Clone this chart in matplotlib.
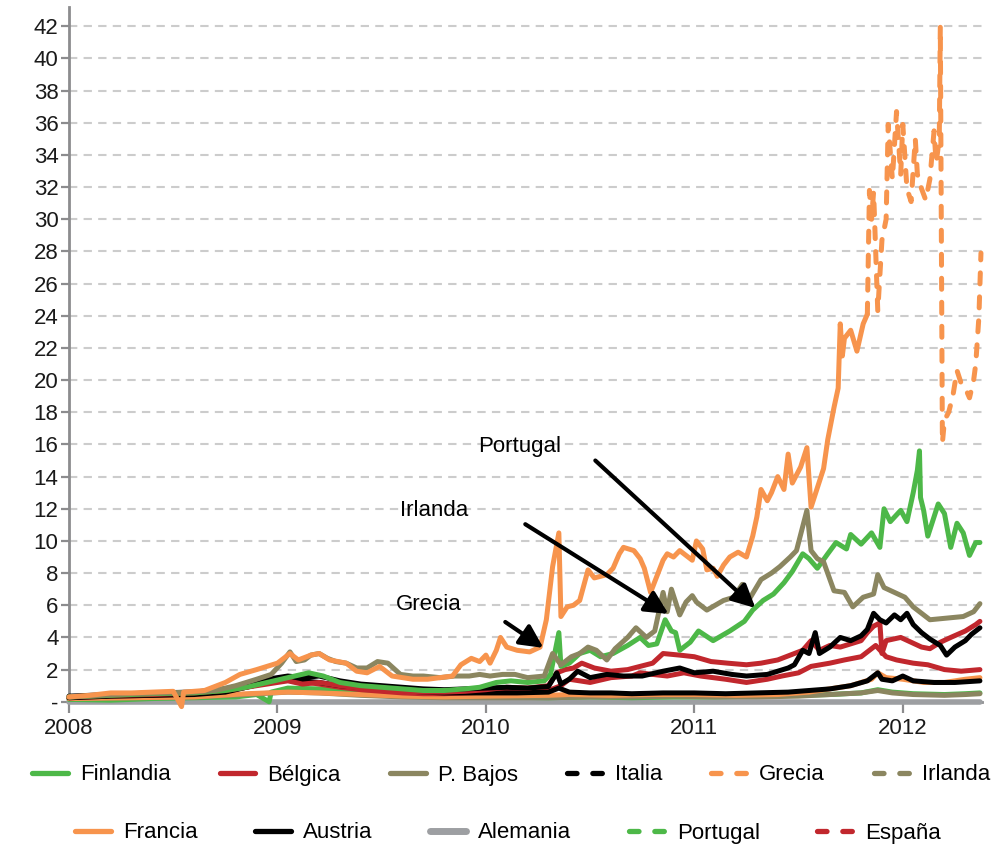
import matplotlib
matplotlib.use("Agg")
import matplotlib.pyplot as plt
from matplotlib.lines import Line2D

plt.rcParams['font.family'] = ['Liberation Sans', 'DejaVu Sans']

# ---------------- data (decimal years, spread in percentage points) ----------------
gr_t = [2008.00, 2008.10, 2008.20, 2008.30, 2008.40, 2008.50, 2008.54, 2008.55, 2008.65, 2008.75,
        2008.82, 2008.90, 2008.95, 2009.00, 2009.06, 2009.10, 2009.16, 2009.20, 2009.25, 2009.33,
        2009.38, 2009.43, 2009.49, 2009.55, 2009.60, 2009.65, 2009.72, 2009.78, 2009.84, 2009.88,
        2009.93, 2009.97, 2010.00, 2010.02, 2010.05, 2010.07, 2010.10, 2010.15, 2010.21, 2010.26,
        2010.29, 2010.32, 2010.35, 2010.36, 2010.39, 2010.42, 2010.45, 2010.49, 2010.52, 2010.55,
        2010.58, 2010.61, 2010.64, 2010.66, 2010.71, 2010.74, 2010.76, 2010.79, 2010.82, 2010.85,
        2010.87, 2010.90, 2010.93, 2010.96, 2010.99, 2011.01, 2011.04, 2011.06, 2011.09, 2011.11,
        2011.14, 2011.17, 2011.21, 2011.25, 2011.28, 2011.30, 2011.32, 2011.35, 2011.37, 2011.40,
        2011.43, 2011.45, 2011.47, 2011.51, 2011.54, 2011.56, 2011.59, 2011.62, 2011.64, 2011.67,
        2011.69, 2011.70, 2011.71, 2011.72, 2011.75, 2011.78, 2011.81, 2011.83,
        2011.84, 2011.85, 2011.86, 2011.88, 2011.90, 2011.92, 2011.93, 2011.95, 2011.97, 2011.99,
        2012.00, 2012.02, 2012.04, 2012.06, 2012.07, 2012.09, 2012.11, 2012.13, 2012.15, 2012.16,
        2012.175, 2012.18, 2012.19, 2012.20, 2012.22, 2012.24, 2012.26, 2012.28, 2012.30, 2012.32,
        2012.34, 2012.35, 2012.365, 2012.375]
gr_v = [0.30, 0.40, 0.55, 0.55, 0.60, 0.65, -0.30, 0.60, 0.70, 1.20,
        1.70, 2.00, 2.20, 2.40, 3.00, 2.60, 2.90, 3.00, 2.60, 2.40,
        1.90, 1.80, 2.20, 1.60, 1.50, 1.40, 1.40, 1.50, 1.60, 2.30,
        2.70, 2.50, 2.90, 2.40, 3.20, 4.00, 3.40, 3.20, 3.10, 3.40,
        5.10, 8.40, 10.50, 5.30, 5.90, 6.00, 6.30, 8.20, 7.70, 7.80,
        7.90, 8.30, 9.20, 9.60, 9.40, 8.90, 8.30, 6.80, 7.80, 8.80,
        9.20, 9.00, 9.40, 9.10, 8.80, 10.00, 9.50, 8.20, 8.30, 7.80,
        8.50, 9.00, 9.30, 9.00, 10.30, 11.50, 13.20, 12.50, 13.00, 14.00,
        13.20, 15.40, 13.60, 14.60, 15.80, 12.10, 13.30, 14.50, 16.30, 18.30,
        19.50, 23.50, 21.50, 22.60, 23.10, 21.80, 23.50, 24.10,
        31.80, 30.00, 31.70, 24.30, 28.70, 30.00, 35.90, 32.50, 36.70, 32.80,
        35.90, 31.90, 31.10, 35.00, 32.80, 31.90, 31.20, 32.50, 35.50, 33.50,
        35.00, 42.00, 16.10, 17.50, 18.00, 19.00, 20.60, 19.80, 19.50, 18.90,
        20.00, 21.00, 23.90, 27.90]

ie_t = [2008.00, 2008.15, 2008.30, 2008.45, 2008.60, 2008.70, 2008.80, 2008.90, 2008.97, 2009.02,
        2009.06, 2009.09, 2009.13, 2009.16, 2009.20, 2009.24, 2009.28, 2009.33, 2009.38, 2009.43,
        2009.48, 2009.53, 2009.59, 2009.65, 2009.70, 2009.78, 2009.85, 2009.92, 2009.97, 2010.02,
        2010.08, 2010.14, 2010.20, 2010.28, 2010.32, 2010.36, 2010.41, 2010.45, 2010.49, 2010.53,
        2010.58, 2010.62, 2010.68, 2010.72, 2010.77, 2010.81, 2010.85, 2010.87, 2010.89, 2010.93,
        2010.96, 2010.99, 2011.01, 2011.06, 2011.10, 2011.14, 2011.19, 2011.23, 2011.26, 2011.32,
        2011.37, 2011.41, 2011.46, 2011.49, 2011.52, 2011.54, 2011.56, 2011.59, 2011.62, 2011.67,
        2011.72, 2011.76, 2011.81, 2011.86, 2011.88, 2011.91, 2011.96, 2012.01, 2012.05, 2012.09,
        2012.13, 2012.21, 2012.29, 2012.34, 2012.37]
ie_v = [0.30, 0.40, 0.50, 0.55, 0.60, 0.70, 1.00, 1.40, 1.70, 2.40,
        3.10, 2.50, 2.60, 2.90, 3.00, 2.70, 2.50, 2.40, 2.10, 2.10,
        2.50, 2.40, 1.70, 1.60, 1.60, 1.50, 1.60, 1.60, 1.70, 1.60,
        1.70, 1.70, 1.50, 1.60, 3.00, 2.30, 2.80, 3.00, 3.40, 3.20,
        2.60, 3.30, 4.00, 4.60, 4.00, 4.40, 6.80, 5.60, 7.00, 5.40,
        6.20, 6.60, 6.20, 5.70, 6.00, 6.30, 6.50, 7.30, 6.30, 7.60,
        8.00, 8.40, 9.00, 9.40, 10.90, 11.90, 9.40, 8.90, 8.70, 6.90,
        6.80, 5.90, 6.50, 6.70, 7.90, 7.10, 6.80, 6.50, 5.90, 5.50,
        5.10, 5.20, 5.30, 5.60, 6.10]

pt_t = [2008.00, 2008.20, 2008.40, 2008.60, 2008.75, 2008.85, 2008.95, 2009.05, 2009.15, 2009.22,
        2009.30, 2009.40, 2009.50, 2009.60, 2009.70, 2009.80, 2009.90, 2009.97, 2010.05, 2010.12,
        2010.20, 2010.28, 2010.31, 2010.35, 2010.36, 2010.40, 2010.45, 2010.50, 2010.55, 2010.61,
        2010.68, 2010.74, 2010.78, 2010.82, 2010.86, 2010.89, 2010.91, 2010.93, 2010.98, 2011.02,
        2011.09, 2011.17, 2011.24, 2011.28, 2011.33, 2011.38, 2011.43, 2011.47, 2011.52, 2011.55,
        2011.59, 2011.64, 2011.68, 2011.73, 2011.75, 2011.80, 2011.85, 2011.89, 2011.91, 2011.94,
        2011.99, 2012.02, 2012.05, 2012.07, 2012.08, 2012.085, 2012.10, 2012.12, 2012.17, 2012.20,
        2012.23, 2012.26, 2012.29, 2012.32, 2012.35, 2012.37]
pt_v = [0.30, 0.40, 0.50, 0.55, 0.70, 0.90, 1.20, 1.50, 1.80, 1.60,
        1.20, 1.00, 0.90, 0.80, 0.70, 0.70, 0.80, 0.90, 1.20, 1.30,
        1.20, 1.30, 1.70, 4.30, 2.20, 2.40, 3.00, 3.20, 2.80, 3.00,
        3.50, 4.00, 3.50, 3.60, 5.10, 4.40, 4.30, 3.20, 3.70, 4.40,
        3.80, 4.40, 5.00, 5.70, 6.30, 6.70, 7.40, 8.10, 9.20, 8.90,
        8.30, 9.20, 9.90, 9.50, 10.40, 9.80, 10.50, 9.60, 12.00, 11.20,
        11.90, 11.20, 13.00, 14.40, 15.60, 12.70, 11.90, 10.30, 12.30, 11.70,
        9.60, 11.10, 10.50, 9.10, 9.90, 9.90]

it_t = [2008.00, 2008.20, 2008.40, 2008.60, 2008.75, 2008.85, 2008.95, 2009.05, 2009.12, 2009.20,
        2009.30, 2009.40, 2009.50, 2009.60, 2009.70, 2009.80, 2009.90, 2010.00, 2010.10, 2010.20,
        2010.30, 2010.34, 2010.36, 2010.40, 2010.44, 2010.50, 2010.58, 2010.66, 2010.75, 2010.85,
        2010.93, 2011.00, 2011.09, 2011.18, 2011.25, 2011.35, 2011.45, 2011.48, 2011.52, 2011.55,
        2011.58, 2011.60, 2011.65, 2011.70, 2011.75, 2011.80, 2011.83, 2011.86, 2011.89, 2011.92,
        2011.96, 2011.99, 2012.02, 2012.05, 2012.09, 2012.13, 2012.18, 2012.21, 2012.25, 2012.30,
        2012.33, 2012.37]
it_v = [0.35, 0.45, 0.55, 0.60, 0.80, 1.10, 1.40, 1.60, 1.50, 1.60,
        1.30, 1.10, 1.00, 0.90, 0.80, 0.75, 0.80, 0.85, 0.90, 0.85,
        0.95, 1.80, 1.10, 1.40, 1.90, 1.50, 1.70, 1.60, 1.60, 1.90,
        2.10, 1.80, 1.90, 1.70, 1.60, 1.70, 2.10, 2.30, 3.20, 3.00,
        4.30, 3.00, 3.40, 4.00, 3.80, 4.10, 4.50, 5.50, 5.10, 4.90,
        5.40, 5.10, 5.50, 4.80, 4.30, 3.90, 3.50, 2.90, 3.40, 3.80,
        4.20, 4.60]

es_t = [2008.00, 2008.20, 2008.40, 2008.60, 2008.75, 2008.85, 2008.95, 2009.05, 2009.12, 2009.20,
        2009.30, 2009.40, 2009.50, 2009.60, 2009.70, 2009.80, 2009.90, 2010.00, 2010.10, 2010.20,
        2010.30, 2010.34, 2010.38, 2010.42, 2010.46, 2010.52, 2010.60, 2010.68, 2010.74, 2010.80,
        2010.85, 2010.93, 2011.00, 2011.08, 2011.16, 2011.25, 2011.32, 2011.40, 2011.48, 2011.52,
        2011.56, 2011.60, 2011.65, 2011.70, 2011.75, 2011.80, 2011.83, 2011.86, 2011.89, 2011.90,
        2011.92, 2011.99, 2012.04, 2012.09, 2012.13, 2012.18, 2012.23, 2012.30, 2012.35, 2012.37]
es_v = [0.30, 0.40, 0.45, 0.55, 0.70, 0.90, 1.10, 1.30, 1.10, 1.20,
        1.00, 0.85, 0.70, 0.65, 0.60, 0.60, 0.65, 0.75, 0.90, 0.85,
        1.00, 1.80, 2.00, 2.10, 2.40, 2.10, 1.90, 2.00, 2.20, 2.40,
        3.00, 2.90, 2.80, 2.50, 2.40, 2.30, 2.40, 2.60, 3.00, 3.20,
        3.80, 3.20, 3.50, 3.40, 3.60, 3.80, 4.30, 4.70, 4.90, 3.00,
        3.80, 4.00, 3.70, 3.40, 3.30, 3.70, 4.00, 4.40, 4.80, 5.00]

be_t = [2008.00, 2008.20, 2008.40, 2008.60, 2008.75, 2008.85, 2008.95, 2009.05, 2009.10, 2009.20,
        2009.30, 2009.40, 2009.50, 2009.60, 2009.70, 2009.80, 2009.90, 2010.00, 2010.10, 2010.20,
        2010.30, 2010.36, 2010.40, 2010.50, 2010.60, 2010.70, 2010.74, 2010.80, 2010.87, 2010.95,
        2011.03, 2011.15, 2011.25, 2011.35, 2011.42, 2011.50, 2011.56, 2011.65, 2011.72, 2011.80,
        2011.87, 2011.92, 2011.97, 2012.05, 2012.12, 2012.20, 2012.28, 2012.37]
be_v = [0.25, 0.35, 0.40, 0.50, 0.65, 0.90, 1.20, 1.50, 1.30, 1.10,
        0.90, 0.75, 0.65, 0.55, 0.50, 0.50, 0.55, 0.60, 0.65, 0.60,
        0.70, 1.00, 1.40, 1.20, 1.50, 1.60, 1.80, 1.70, 1.60, 1.80,
        1.60, 1.40, 1.20, 1.40, 1.60, 1.80, 2.20, 2.40, 2.60, 2.80,
        3.50, 2.80, 2.60, 2.40, 2.30, 2.00, 1.90, 2.00]

at_t = [2008.00, 2008.20, 2008.40, 2008.60, 2008.75, 2008.85, 2008.95, 2009.05, 2009.12, 2009.20,
        2009.30, 2009.40, 2009.50, 2009.60, 2009.70, 2009.80, 2009.90, 2010.00, 2010.15, 2010.30,
        2010.35, 2010.40, 2010.50, 2010.60, 2010.70, 2010.85, 2011.00, 2011.15, 2011.30, 2011.45,
        2011.55, 2011.65, 2011.75, 2011.83, 2011.88, 2011.90, 2011.95, 2012.00, 2012.05, 2012.15,
        2012.25, 2012.37]
at_v = [0.25, 0.35, 0.40, 0.45, 0.60, 0.90, 1.20, 1.40, 1.30, 1.20,
        1.00, 0.90, 0.80, 0.70, 0.60, 0.55, 0.55, 0.55, 0.55, 0.60,
        0.85, 0.60, 0.55, 0.55, 0.50, 0.55, 0.55, 0.50, 0.55, 0.60,
        0.70, 0.80, 1.00, 1.30, 1.80, 1.40, 1.30, 1.60, 1.30, 1.20,
        1.20, 1.30]

fr_t = [2008.00, 2008.30, 2008.60, 2008.85, 2009.05, 2009.20, 2009.40, 2009.60, 2009.80, 2010.00,
        2010.30, 2010.40, 2010.60, 2010.80, 2011.00, 2011.20, 2011.40, 2011.55, 2011.65, 2011.75,
        2011.85, 2011.88, 2011.92, 2012.00, 2012.10, 2012.20, 2012.30, 2012.37]
fr_v = [0.20, 0.25, 0.30, 0.50, 0.60, 0.55, 0.45, 0.35, 0.30, 0.35,
        0.40, 0.45, 0.40, 0.45, 0.45, 0.40, 0.45, 0.60, 0.80, 1.00,
        1.40, 1.80, 1.50, 1.40, 1.20, 1.20, 1.40, 1.50]

nl_t = [2008.00, 2008.30, 2008.60, 2008.85, 2009.05, 2009.20, 2009.40, 2009.60, 2009.80, 2010.00,
        2010.30, 2010.50, 2010.70, 2010.90, 2011.10, 2011.30, 2011.50, 2011.65, 2011.80, 2011.88,
        2011.95, 2012.05, 2012.20, 2012.30, 2012.37]
nl_v = [0.20, 0.25, 0.30, 0.45, 0.60, 0.55, 0.40, 0.30, 0.25, 0.25,
        0.25, 0.30, 0.30, 0.35, 0.30, 0.30, 0.35, 0.45, 0.55, 0.70,
        0.55, 0.45, 0.40, 0.45, 0.50]

fi_t = [2008.00, 2008.20, 2008.40, 2008.60, 2008.80, 2008.90, 2008.96, 2008.97, 2009.05, 2009.20,
        2009.40, 2009.60, 2009.80, 2010.00, 2010.30, 2010.50, 2010.70, 2010.90, 2011.10, 2011.30,
        2011.50, 2011.65, 2011.80, 2011.88, 2011.95, 2012.05, 2012.20, 2012.30, 2012.37]
fi_v = [0.15, 0.10, 0.20, 0.25, 0.30, 0.45, 0.00, 0.60, 0.85, 0.80,
        0.65, 0.50, 0.40, 0.30, 0.25, 0.30, 0.25, 0.30, 0.30, 0.35,
        0.40, 0.45, 0.55, 0.75, 0.60, 0.50, 0.45, 0.50, 0.55]

de_t = [2008.00, 2012.37]
de_v = [0.00, 0.00]

y_ticks = list(range(0, 43, 2))
y_tick_labels = ['-'] + [str(v) for v in range(2, 43, 2)]
x_ticks = [2008, 2009, 2010, 2011, 2012]
x_tick_labels = ['2008', '2009', '2010', '2011', '2012']

# ---------------- style ----------------
GREEN = '#4db848'
RED = '#c1272d'
KHAKI = '#8b8660'
ORANGE = '#f7944d'
BLACK = '#000000'
GRAY = '#9d9fa2'
DASH = (2.2, 2.6)
LW = 3.6

fig = plt.figure(figsize=(9.94, 8.5), dpi=100)
ax = fig.add_axes([69/994, (850-709)/850, (982-69)/994, (709-7)/850])

def draw(t, v, color, lw=LW, dashed=False, z=2):
    kw = dict(color=color, lw=lw, solid_capstyle='round', solid_joinstyle='round',
              dash_capstyle='round', zorder=z, clip_on=False)
    if dashed:
        kw['dashes'] = DASH
    ax.plot(t, v, **kw)

draw(de_t, de_v, GRAY, lw=4.0, z=2)
draw(fi_t, fi_v, GREEN, z=3)
draw(nl_t, nl_v, KHAKI, z=3)
draw(fr_t, fr_v, ORANGE, z=3)
draw(be_t, be_v, RED, z=4)
draw(at_t, at_v, BLACK, z=4)
draw(es_t, es_v, RED, z=5)
draw(it_t, it_v, BLACK, z=5)
draw(pt_t, pt_v, GREEN, z=6)
draw(ie_t, ie_v, KHAKI, z=7)
# Greece: appears solid until late 2011, dashed afterwards
k = gr_t.index(2011.83)
draw(gr_t[:k+1], gr_v[:k+1], ORANGE, z=8)
draw(gr_t[k:], gr_v[k:], ORANGE, dashed=True, z=8)

ax.set_xlim(2008, 2012.38)
ax.set_ylim(-0.45, 43.2)
ax.set_yticks(y_ticks)
ax.set_yticklabels(y_tick_labels)
ax.set_xticks(x_ticks)
ax.set_xticklabels(x_tick_labels)

for v in y_ticks[1:]:
    ax.axhline(v, color='#cccccc', lw=1.5, dashes=(4, 3), zorder=1)

SPINE = '#8c8c8e'
for s in ['top', 'right']:
    ax.spines[s].set_visible(False)
ax.spines['bottom'].set_position(('data', 0))
ax.spines['left'].set_bounds(0, 43.2)
for s in ['left', 'bottom']:
    ax.spines[s].set_color(SPINE)
    ax.spines[s].set_linewidth(2.0)
    ax.spines[s].set_zorder(1.5)
ax.tick_params(axis='y', direction='out', length=6, width=1.6, color=SPINE, pad=1.5,
               labelsize=16, labelcolor='#1a1a1a')
ax.tick_params(axis='x', direction='out', length=8, width=1.6, color=SPINE, pad=4,
               labelsize=16, labelcolor='#1a1a1a')
ax.patch.set_alpha(0)

# ---------------- annotations ----------------
ap = dict(arrowstyle='-|>,head_length=0.7,head_width=0.35', lw=3.0, color='black',
          shrinkA=0, shrinkB=0, mutation_scale=20)
ax.text(2010.16, 15.88, 'Portugal', fontsize=16, ha='center', va='center')
ax.text(2009.752, 11.91, 'Irlanda', fontsize=16, ha='center', va='center')
ax.text(2009.728, 6.02, 'Grecia', fontsize=16, ha='center', va='center')
ax.annotate('', xy=(2011.293, 5.83), xytext=(2010.525, 15.0), arrowprops=ap, zorder=10)
ax.annotate('', xy=(2010.876, 5.46), xytext=(2010.189, 11.04), arrowprops=ap, zorder=10)
ax.annotate('', xy=(2010.276, 3.35), xytext=(2010.093, 4.96), arrowprops=ap, zorder=10)

# ---------------- legend ----------------
def h(color, dashed=False, lw=3.8):
    kw = dict(color=color, lw=lw, solid_capstyle='round', dash_capstyle='round')
    if dashed:
        kw['dashes'] = (1.8, 3.0)
    return Line2D([], [], **kw)

row1_h = [h(GREEN), h(RED), h(KHAKI), h(BLACK, True), h(ORANGE, True), h(KHAKI, True)]
row1_l = ['Finlandia', 'Bélgica', 'P. Bajos', 'Italia', 'Grecia', 'Irlanda']
row2_h = [h(ORANGE), h(BLACK), h(GRAY, lw=5), h(GREEN, True), h(RED, True)]
row2_l = ['Francia', 'Austria', 'Alemania', 'Portugal', 'España']

common = dict(frameon=False, handlelength=1.6, handletextpad=0.55, borderpad=0,
              borderaxespad=0, fontsize=16, mode='expand', loc='center')
leg1 = fig.legend(row1_h, row1_l, ncol=6,
                  bbox_to_anchor=(32/994, (850-795)/850, (990-32)/994, 40/850), **common)
leg2 = fig.legend(row2_h, row2_l, ncol=5,
                  bbox_to_anchor=(75/994, (850-853)/850, (941-75)/994, 40/850), **common)

fig.savefig('out.png', dpi=100)
